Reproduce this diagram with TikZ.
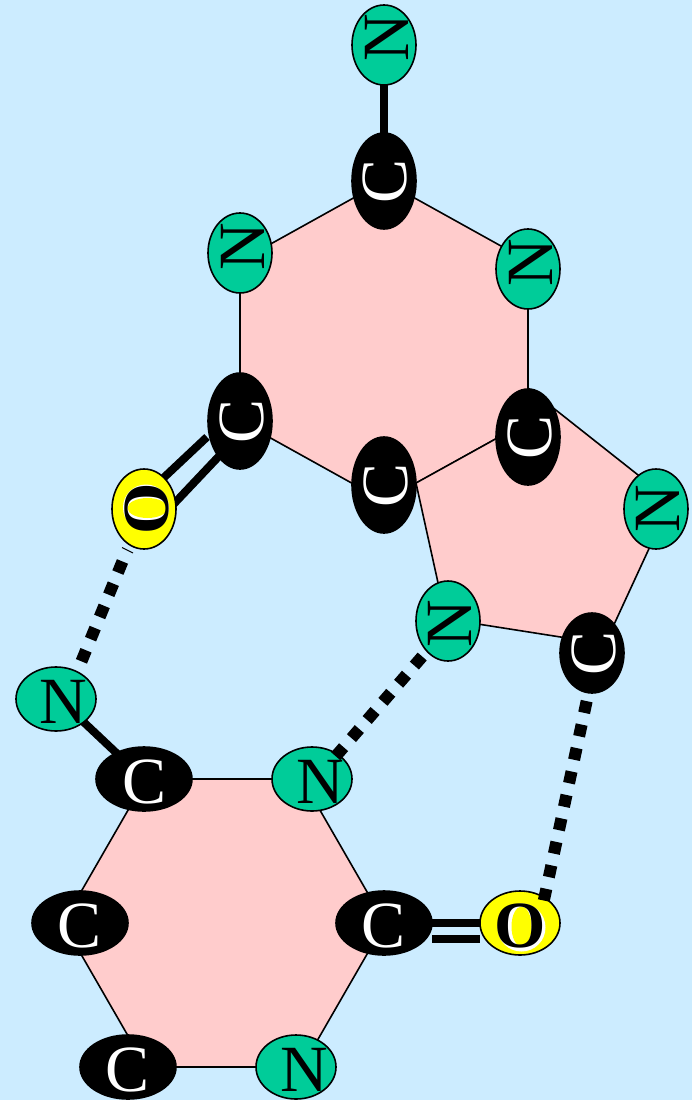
\documentclass[tikz,border=0pt]{standalone}
\usepackage{fontspec}
\usepackage{graphicx}
\setmainfont{Liberation Serif}
\usetikzlibrary{shapes.geometric}
\definecolor{bgblue}{HTML}{CCECFF}
\definecolor{ringpink}{HTML}{FFCCCC}
\definecolor{atomgreen}{HTML}{00CC99}
\definecolor{atomyellow}{HTML}{FFFF00}
% atom label: shifted dx/2 right and dy up from the ellipse centre, takes no room
\newcommand\atomH[3]{\smash{\makebox[0pt]{\kern#1pt\raisebox{\dimexpr-.5\height+#2pt\relax}{#3}}}}
\newcommand\atomV[3]{\atomH{#1}{#2}{\rotatebox{90}{#3}}}
\tikzset{
  atom/.style={ellipse,inner sep=0pt,outer sep=0pt,font=\fontsize{66}{66}\selectfont},
  tall/.style={minimum width=64pt,minimum height=80pt},
  talll/.style={minimum width=64pt,minimum height=96pt},
  wide/.style={minimum width=80pt,minimum height=64pt},
  widel/.style={minimum width=96pt,minimum height=64pt},
  nitro/.style={atom,draw=black,line width=1.6pt,fill=atomgreen,text=black},
  carbon/.style={atom,draw=black,line width=1.6pt,fill=black,text=white},
  oxy/.style={atom,draw=black,line width=1.6pt,fill=atomyellow,text=black},
  ring/.style={draw=black,line width=1.6pt,fill=ringpink},
  bond/.style={line width=8pt,draw=black},
  hbond/.style={line width=12pt,draw=black,dash pattern=on 12pt off 12pt},
}
\begin{document}
\begin{tikzpicture}[x=1pt,y=-1pt]
\useasboundingbox (0,0) rectangle (692,1100);
\fill[bgblue] (0,0) rectangle (692,1100);
% rings
\draw[ring] (384,181) -- (528,261) -- (528,421) -- (384,501) -- (240,421) -- (240,261) -- cycle;
\draw[ring] (416,483) -- (528,421) -- (528,388) -- (671,501) -- (605,644) -- (446,619) -- cycle;
\draw[ring] (146,779) -- (302,779) -- (385,923) -- (302,1067) -- (146,1067) -- (63,923) -- cycle;
% free ends of the bonds under the atoms
\coordinate (dbAa) at (157,484);
\coordinate (dbAb) at (207,437);
\coordinate (dbBa) at (169,509);
\coordinate (dbBb) at (222,453);
\coordinate (dbCa) at (432,923);
\coordinate (dbCb) at (490,923);
\coordinate (dbDa) at (432,939);
\coordinate (dbDb) at (480,939);
\coordinate (nTop) at (384,45);
\coordinate (cTop) at (384,181);
\coordinate (nSide) at (56,696);
\coordinate (cSide) at (144,779);
\draw[bond] (nTop) -- (cTop);
\draw[bond] (nSide) -- (cSide);
\draw[bond] (dbAa) -- (dbAb);
\draw[bond] (dbBa) -- (dbBb);
\draw[bond] (dbCa) -- (dbCb);
\draw[bond] (dbDa) -- (dbDb);
% upper molecule
\node[nitro,tall] (N1) at (384,45) {\atomV{5}{7}{N}};
\node[carbon,talll] (C1) at (384,181) {\atomV{2}{0}{C}};
\node[nitro,tall] (N2) at (240,253) {\atomV{5}{6}{N}};
\node[nitro,tall] (N3) at (528,269) {\atomV{5}{6}{N}};
\node[carbon,talll] (C2) at (240,421) {\atomV{4}{0}{C}};
\node[carbon,talll] (C3) at (528,437) {\atomV{4}{0}{C}};
\node[carbon,talll] (C4) at (384,485) {\atomV{4}{0}{C}};
\node[nitro,tall] (N4) at (656,509) {\atomV{4}{0}{N}};
\node[nitro,tall] (N5) at (448,621) {\atomV{4}{-3}{N}};
\node[carbon,tall] (C5) at (592,653) {\atomV{4}{0}{C}};
\node[oxy,tall,path picture={
    \fill[white] (2pt,1.5pt) ellipse [x radius=23pt,y radius=23pt];
    \fill[atomyellow] (3.5pt,1pt) ellipse [x radius=20pt,y radius=10pt];
  }] (O1) at (144,509) {\atomV{5}{0}{\bfseries O}};
% lower molecule
\node[nitro,wide] (N6) at (56,699) {\atomH{15}{-3}{N}};
\node[carbon,widel] (C6) at (144,779) {\atomH{2}{-3}{C}};
\node[nitro,wide] (N7) at (312,779) {\atomH{16}{-3}{N}};
\node[carbon,widel] (C7) at (384,923) {\atomH{0}{-3}{C}};
\node[oxy,wide,path picture={
    \fill[white] (1.5pt,-4.5pt) ellipse [x radius=24pt,y radius=24pt];
    \fill[atomyellow] (1.5pt,-3.5pt) ellipse [x radius=10pt,y radius=20pt];
  }] (O2) at (520,923) {\atomH{0}{-3}{\bfseries O}};
\node[carbon,widel] (C8) at (80,923) {\atomH{0}{-3}{C}};
\node[carbon,widel] (C9) at (128,1067) {\atomH{0}{-3}{C}};
\node[nitro,wide] (N8) at (296,1067) {\atomH{16}{-3}{N}};
% hydrogen bonds
\draw[hbond,shorten <=56.7pt,shorten >=40.7pt] (O1.center) -- ([xshift=10pt]N6.center);
\draw[hbond,shorten <=47pt,shorten >=30pt] ([xshift=5pt]N5.center) -- ([xshift=4pt]N7.center);
\draw[hbond,shorten <=49.2pt,shorten >=23pt] ([xshift=5pt]C5.center) -- ([xshift=19pt]O2.center);
\draw[black,line width=1pt] (122,547.5) -- (133,553);
\end{tikzpicture}
\end{document}
